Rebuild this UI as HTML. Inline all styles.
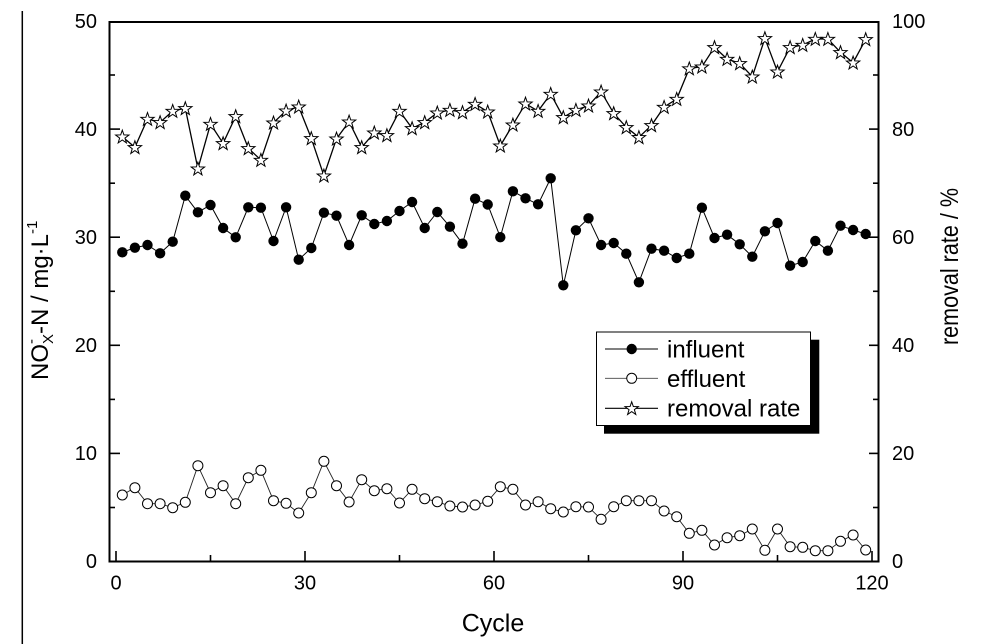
<!DOCTYPE html>
<html>
<head>
<meta charset="utf-8">
<style>
  html, body { margin: 0; padding: 0; background: #fff; }
  svg { display: block; }
  text { font-family: "Liberation Sans", Arial, sans-serif; fill: #000; }
</style>
</head>
<body>
<svg width="986" height="644" viewBox="0 0 986 644" xmlns="http://www.w3.org/2000/svg">
  <defs>
    <marker id="mFill" markerWidth="12" markerHeight="12" refX="6" refY="6" markerUnits="userSpaceOnUse" overflow="visible">
      <circle cx="6" cy="6" r="5.2" fill="#000" stroke="none"/>
    </marker>
    <marker id="mOpen" markerWidth="12" markerHeight="12" refX="6" refY="6" markerUnits="userSpaceOnUse" overflow="visible">
      <circle cx="6" cy="6" r="5" fill="#fff" stroke="#000" stroke-width="1"/>
    </marker>
    <marker id="mStar" markerWidth="16" markerHeight="16" refX="8" refY="7.5" markerUnits="userSpaceOnUse" overflow="visible">
      <path transform="translate(8,8)" d="M0,-7 L1.646,-2.265 L6.657,-2.163 L2.663,0.865 L4.114,5.663 L0,2.8 L-4.114,5.663 L-2.663,0.865 L-6.657,-2.163 L-1.646,-2.265 Z" fill="#fff" stroke="#000" stroke-width="1" stroke-linejoin="miter"/>
    </marker>
  </defs>

  <rect x="0" y="0" width="986" height="644" fill="#fff"/>

  <!-- left edge line -->
  <line x1="22.3" y1="11" x2="22.3" y2="644" stroke="#000" stroke-width="1.5"/>

  <!-- axes frame -->
  <rect x="109.5" y="22" width="769" height="539.5" fill="none" stroke="#000" stroke-width="2"/>

  <!-- left ticks -->
  <g stroke="#000" stroke-width="1.6">
    <line x1="110" y1="561.5" x2="120" y2="561.5"/>
    <line x1="110" y1="453.4" x2="120" y2="453.4"/>
    <line x1="110" y1="345.3" x2="120" y2="345.3"/>
    <line x1="110" y1="237.2" x2="120" y2="237.2"/>
    <line x1="110" y1="129.1" x2="120" y2="129.1"/>
    <line x1="110" y1="507.5" x2="115" y2="507.5"/>
    <line x1="110" y1="399.4" x2="115" y2="399.4"/>
    <line x1="110" y1="291.3" x2="115" y2="291.3"/>
    <line x1="110" y1="183.2" x2="115" y2="183.2"/>
    <line x1="110" y1="75" x2="115" y2="75"/>
    <!-- right ticks -->
    <line x1="878" y1="561.5" x2="869" y2="561.5"/>
    <line x1="878" y1="453.4" x2="869" y2="453.4"/>
    <line x1="878" y1="345.3" x2="869" y2="345.3"/>
    <line x1="878" y1="237.2" x2="869" y2="237.2"/>
    <line x1="878" y1="129.1" x2="869" y2="129.1"/>
    <line x1="878" y1="507.5" x2="873" y2="507.5"/>
    <line x1="878" y1="399.4" x2="873" y2="399.4"/>
    <line x1="878" y1="291.3" x2="873" y2="291.3"/>
    <line x1="878" y1="183.2" x2="873" y2="183.2"/>
    <line x1="878" y1="75" x2="873" y2="75"/>
    <!-- bottom ticks -->
    <line x1="116" y1="561" x2="116" y2="551"/>
    <line x1="305" y1="561" x2="305" y2="551"/>
    <line x1="494" y1="561" x2="494" y2="551"/>
    <line x1="683" y1="561" x2="683" y2="551"/>
    <line x1="872" y1="561" x2="872" y2="551"/>
    <line x1="210.5" y1="561" x2="210.5" y2="555"/>
    <line x1="399.5" y1="561" x2="399.5" y2="555"/>
    <line x1="588.5" y1="561" x2="588.5" y2="555"/>
    <line x1="777.5" y1="561" x2="777.5" y2="555"/>
  </g>

  <!-- left tick labels -->
  <g font-size="20" text-anchor="end">
    <text x="97" y="28">50</text>
    <text x="97" y="136">40</text>
    <text x="97" y="244">30</text>
    <text x="97" y="352">20</text>
    <text x="97" y="460">10</text>
    <text x="97" y="568">0</text>
  </g>
  <!-- right tick labels -->
  <g font-size="20" text-anchor="start">
    <text x="892" y="28">100</text>
    <text x="892" y="136">80</text>
    <text x="892" y="244">60</text>
    <text x="892" y="352">40</text>
    <text x="892" y="460">20</text>
    <text x="892" y="568">0</text>
  </g>
  <!-- bottom tick labels -->
  <g font-size="20" text-anchor="middle">
    <text x="116" y="589.5">0</text>
    <text x="305" y="589.5">30</text>
    <text x="494" y="589.5">60</text>
    <text x="683" y="589.5">90</text>
    <text x="872" y="589.5">120</text>
  </g>

  <!-- axis titles -->
  <text x="493" y="631.5" font-size="25" text-anchor="middle">Cycle</text>

  <g transform="translate(48,380) rotate(-90)">
    <text x="0" y="0" font-size="24"><tspan>NO</tspan><tspan font-size="15" dy="5">X</tspan><tspan font-size="15" dx="-10" dy="-17">-</tspan><tspan dx="5" dy="12">-N / mg·L</tspan><tspan font-size="15" dy="-11">-1</tspan></text>
  </g>

  <g transform="translate(958,345) rotate(-90)">
    <text x="0" y="0" font-size="25" textLength="157" lengthAdjust="spacingAndGlyphs">removal rate / %</text>
  </g>

  <!-- influent -->
  <polyline fill="none" stroke="#000" stroke-width="1" marker-start="url(#mFill)" marker-mid="url(#mFill)" marker-end="url(#mFill)"
    points="122.3,252.3 134.9,247.7 147.5,245 160.1,253.3 172.7,241.7 185.3,195.7 197.9,212.3 210.5,205 223.1,228 235.7,237.3 248.3,207.3 260.9,207.7 273.5,241 286.1,207.3 298.7,259.7 311.3,248 323.9,212.7 336.5,215.7 349.1,245 361.7,215.3 374.3,224 386.9,221 399.5,211 412.1,202 424.7,228 437.3,212 449.9,226.7 462.5,243.7 475.1,198.7 487.7,204.5 500.3,237.2 512.9,191.3 525.5,198.3 538.1,204.3 550.7,178.3 563.3,285.3 575.9,230.3 588.5,218.3 601.1,245 613.7,243 626.3,253.7 638.9,282.3 651.5,248.7 664.1,250.7 676.7,258 689.3,253.7 701.9,207.7 714.5,238 727.1,234.7 739.7,244.3 752.3,256.7 764.9,231.3 777.5,223 790.1,265.7 802.7,262 815.3,241 827.9,250.7 840.5,225.7 853.1,230 865.7,234"/>

  <!-- effluent -->
  <polyline fill="none" stroke="#222" stroke-width="0.9" marker-start="url(#mOpen)" marker-mid="url(#mOpen)" marker-end="url(#mOpen)"
    points="122.3,495 134.9,487.7 147.5,503.7 160.1,503.7 172.7,507.7 185.3,502.3 197.9,465.7 210.5,492.7 223.1,485.7 235.7,503.7 248.3,477.7 260.9,470.3 273.5,500.7 286.1,503.3 298.7,513 311.3,492.7 323.9,461.3 336.5,485.7 349.1,502 361.7,479.7 374.3,490.7 386.9,488.7 399.5,503 412.1,489.3 424.7,498.7 437.3,501.7 449.9,506 462.5,507 475.1,505 487.7,501.3 500.3,486.7 512.9,489.3 525.5,505 538.1,501.7 550.7,508.7 563.3,512 575.9,506.7 588.5,507 601.1,519.3 613.7,506.7 626.3,500.7 638.9,500.7 651.5,500.7 664.1,511 676.7,516.7 689.3,533.3 701.9,530.3 714.5,545 727.1,537.7 739.7,535.7 752.3,529 764.9,550.3 777.5,529 790.1,546.7 802.7,547.3 815.3,550.7 827.9,550.7 840.5,541.3 853.1,535 865.7,550"/>

  <!-- removal rate -->
  <polyline fill="none" stroke="#000" stroke-width="1.3" marker-start="url(#mStar)" marker-mid="url(#mStar)" marker-end="url(#mStar)"
    points="122.3,136.7 134.9,147.3 147.5,119 160.1,122.3 172.7,111 185.3,108.3 197.9,168.7 210.5,124 223.1,143.3 235.7,116.3 248.3,148.3 260.9,160 273.5,122.7 286.1,110.7 298.7,106.7 311.3,138.3 323.9,175.7 336.5,138.7 349.1,121.7 361.7,147.3 374.3,132.7 386.9,135.3 399.5,111 412.1,128.3 424.7,122.3 437.3,112.7 449.9,110 462.5,112.3 475.1,104 487.7,111.7 500.3,145.7 512.9,124.7 525.5,103.7 538.1,111 550.7,94 563.3,117.3 575.9,110 588.5,105.7 601.1,91.7 613.7,113.3 626.3,127.3 638.9,137.3 651.5,125.3 664.1,107 676.7,99 689.3,68.5 701.9,66.7 714.5,47.3 727.1,59 739.7,63.3 752.3,76.7 764.9,38.3 777.5,71.7 790.1,47.3 802.7,45 815.3,39 827.9,39 840.5,52.3 853.1,62.7 865.7,39.3"/>

  <!-- legend -->
  <rect x="604" y="339.7" width="215.3" height="94" fill="#000"/>
  <rect x="596.5" y="332" width="214" height="93.5" fill="#fff" stroke="#000" stroke-width="1"/>

  <line x1="605" y1="349" x2="658" y2="349" stroke="#000" stroke-width="1"/>
  <circle cx="631.7" cy="349" r="5.2" fill="#000"/>
  <text x="667" y="357.7" font-size="24">influent</text>

  <line x1="605" y1="378.3" x2="658" y2="378.3" stroke="#444" stroke-width="0.8"/>
  <circle cx="631.7" cy="378.3" r="5" fill="#fff" stroke="#000" stroke-width="1"/>
  <text x="667" y="387.2" font-size="24">effluent</text>

  <line x1="605" y1="408.3" x2="658" y2="408.3" stroke="#000" stroke-width="1.2"/>
  <path transform="translate(631.7,408.8)" d="M0,-7 L1.646,-2.265 L6.657,-2.163 L2.663,0.865 L4.114,5.663 L0,2.8 L-4.114,5.663 L-2.663,0.865 L-6.657,-2.163 L-1.646,-2.265 Z" fill="#fff" stroke="#000" stroke-width="1"/>
  <text x="667" y="416.7" font-size="24">removal rate</text>
</svg>
</body>
</html>
